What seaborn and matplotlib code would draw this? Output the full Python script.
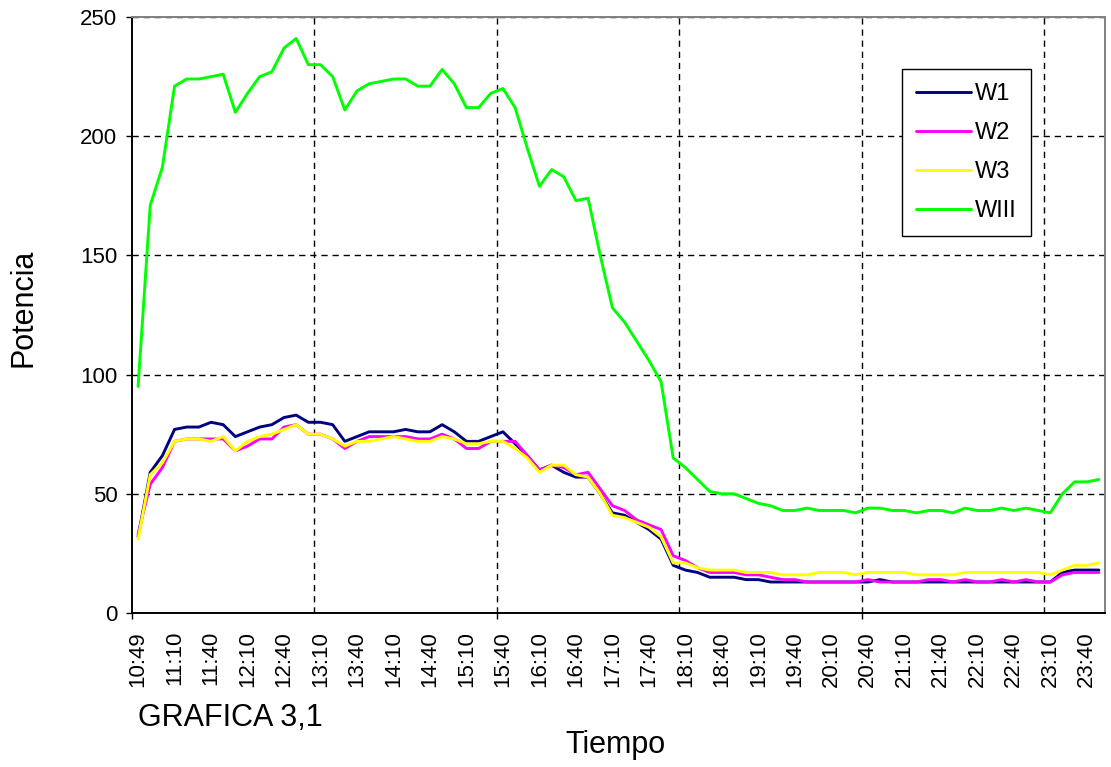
import matplotlib
matplotlib.use("Agg")
import matplotlib.pyplot as plt
import seaborn as sns
import pandas as pd
import numpy as np

# categorias de tiempo: primera lectura 10:49, luego cada 10 minutos desde 10:50
times = ["10:49"] + [f"{(650 + 10 * k) // 60}:{(650 + 10 * k) % 60:02d}" for k in range(79)]

w1 = [32, 59, 66, 77, 78, 78, 80, 79, 74, 76, 78, 79, 82, 83, 80, 80, 79, 72, 74, 76,
      76, 76, 77, 76, 76, 79, 76, 72, 72, 74, 76, 71, 66, 60, 62, 59, 57, 57, 50, 42,
      41, 38, 35, 31, 20, 18, 17, 15, 15, 15, 14, 14, 13, 13, 13, 13, 13, 13, 13, 13,
      13, 14, 13, 13, 13, 13, 13, 13, 13, 13, 13, 13, 13, 13, 13, 13, 17, 18, 18, 18]

w2 = [33, 54, 61, 72, 73, 73, 73, 73, 68, 70, 73, 73, 78, 79, 75, 75, 73, 69, 72, 74,
      74, 74, 74, 73, 73, 75, 73, 69, 69, 72, 72, 72, 66, 60, 62, 61, 58, 59, 52, 45,
      43, 39, 37, 35, 24, 22, 19, 17, 17, 17, 16, 16, 15, 14, 14, 13, 13, 13, 13, 13,
      14, 13, 13, 13, 13, 14, 14, 13, 14, 13, 13, 14, 13, 14, 13, 13, 16, 17, 17, 17]

w3 = [31, 58, 63, 72, 73, 73, 72, 74, 68, 72, 74, 75, 77, 79, 75, 75, 73, 70, 72, 72,
      73, 74, 73, 72, 72, 74, 73, 71, 71, 72, 72, 69, 65, 59, 62, 62, 58, 57, 50, 41,
      40, 38, 36, 32, 21, 21, 19, 18, 18, 18, 17, 17, 17, 16, 16, 16, 17, 17, 17, 16,
      17, 17, 17, 17, 16, 16, 16, 16, 17, 17, 17, 17, 17, 17, 17, 16, 18, 20, 20, 21]

wiii = [95, 171, 187, 221, 224, 224, 225, 226, 210, 218, 225, 227, 237, 241, 230, 230, 225, 211, 219, 222,
        223, 224, 224, 221, 221, 228, 222, 212, 212, 218, 220, 212, 195, 179, 186, 183, 173, 174, 150, 128,
        122, 114, 106, 97, 65, 61, 56, 51, 50, 50, 48, 46, 45, 43, 43, 44, 43, 43, 43, 42,
        44, 44, 43, 43, 42, 43, 43, 42, 44, 43, 43, 44, 43, 44, 43, 42, 50, 55, 55, 56]

series_names = ["W1", "W2", "W3", "WIII"]
colors = {"W1": "#000080", "W2": "#FF00FF", "W3": "#FFFF00", "WIII": "#00FF00"}
y_ticks = [0, 50, 100, 150, 200, 250]

n = len(times)
frames = []
for name, vals in zip(series_names, [w1, w2, w3, wiii]):
    frames.append(pd.DataFrame({"idx": np.arange(n), "Potencia": vals, "Serie": name}))
df = pd.concat(frames, ignore_index=True)

sns.set_style("white")
plt.rcParams["font.family"] = ["Liberation Sans", "DejaVu Sans"]
plt.rcParams["text.color"] = "black"
plt.rcParams["xtick.color"] = "black"
plt.rcParams["ytick.color"] = "black"
plt.rcParams["xtick.labelcolor"] = "black"
plt.rcParams["ytick.labelcolor"] = "black"

fig = plt.figure(figsize=(11.11, 7.67), dpi=100)
ax = fig.add_axes([0.1188, 0.2008, 0.8758, 0.777])

sns.lineplot(data=df, x="idx", y="Potencia", hue="Serie", hue_order=series_names,
             palette=colors, linewidth=2.1, ax=ax, legend=True)

ax.set_xlim(-0.5, n - 0.5)
ax.set_ylim(0, 250)
ax.set_xlabel("")
ax.set_ylabel("")

# eje y
ax.set_yticks(y_ticks)
ax.tick_params(axis="y", direction="out", length=4.5, width=1, colors="black",
               labelsize=16, pad=6, left=True)
ax.yaxis.grid(True, color="black", linestyle=(0, (4.5, 3.5)), linewidth=1)

# eje x: etiquetas cada 3 categorias, rejilla cada 15
ax.set_xticks(np.arange(0, n, 3))
ax.set_xticklabels(times[::3], rotation=90)
ax.tick_params(axis="x", which="major", length=0, labelsize=16, pad=13, colors="black")
ax.set_xticks(np.arange(14.5, n, 15), minor=True)
ax.tick_params(axis="x", which="minor", length=0)
ax.xaxis.grid(True, which="minor", color="black", linestyle=(0, (4.5, 3.5)), linewidth=1)
ax.xaxis.grid(False, which="major")

sec = ax.secondary_xaxis("bottom")
sec.set_xticks([-0.5, 29.5, 59.5])
sec.set_xticklabels([])
sec.tick_params(length=4.5, width=1, color="black", direction="out")
sec.spines["bottom"].set_visible(False)

for side in ["left", "bottom"]:
    ax.spines[side].set_color("black")
    ax.spines[side].set_linewidth(1.4)
for side in ["top", "right"]:
    ax.spines[side].set_color("#808080")
    ax.spines[side].set_linewidth(1.4)
    ax.spines[side].set_visible(True)
for sp in ax.spines.values():
    sp.set_zorder(5)

handles, labels = ax.get_legend_handles_labels()
leg = ax.legend(handles, labels, loc="upper left",
                bbox_to_anchor=(902 / 1111, 1 - 69 / 767), bbox_transform=fig.transFigure,
                borderaxespad=0, fontsize=17, frameon=True, fancybox=False, shadow=False,
                handlelength=2.33, handletextpad=0.15, labelspacing=0.72, borderpad=0.6)
leg.get_frame().set_edgecolor("black")
leg.get_frame().set_linewidth(1)
leg.get_frame().set_alpha(1)
for line in leg.get_lines():
    line.set_linewidth(2.1)
for t in leg.get_texts():
    t.set_color("black")

fig.text(24 / 1111, 1 - 308 / 767, "Potencia", rotation=90, ha="center", va="center",
         fontsize=22, color="black")
fig.text(615 / 1111, 1 - 745 / 767, "Tiempo", ha="center", va="center", fontsize=22, color="black")
fig.text(138 / 1111, 1 - 718 / 767, "GRAFICA 3,1", ha="left", va="center", fontsize=22, color="black")

fig.savefig("out.png", dpi=100)
